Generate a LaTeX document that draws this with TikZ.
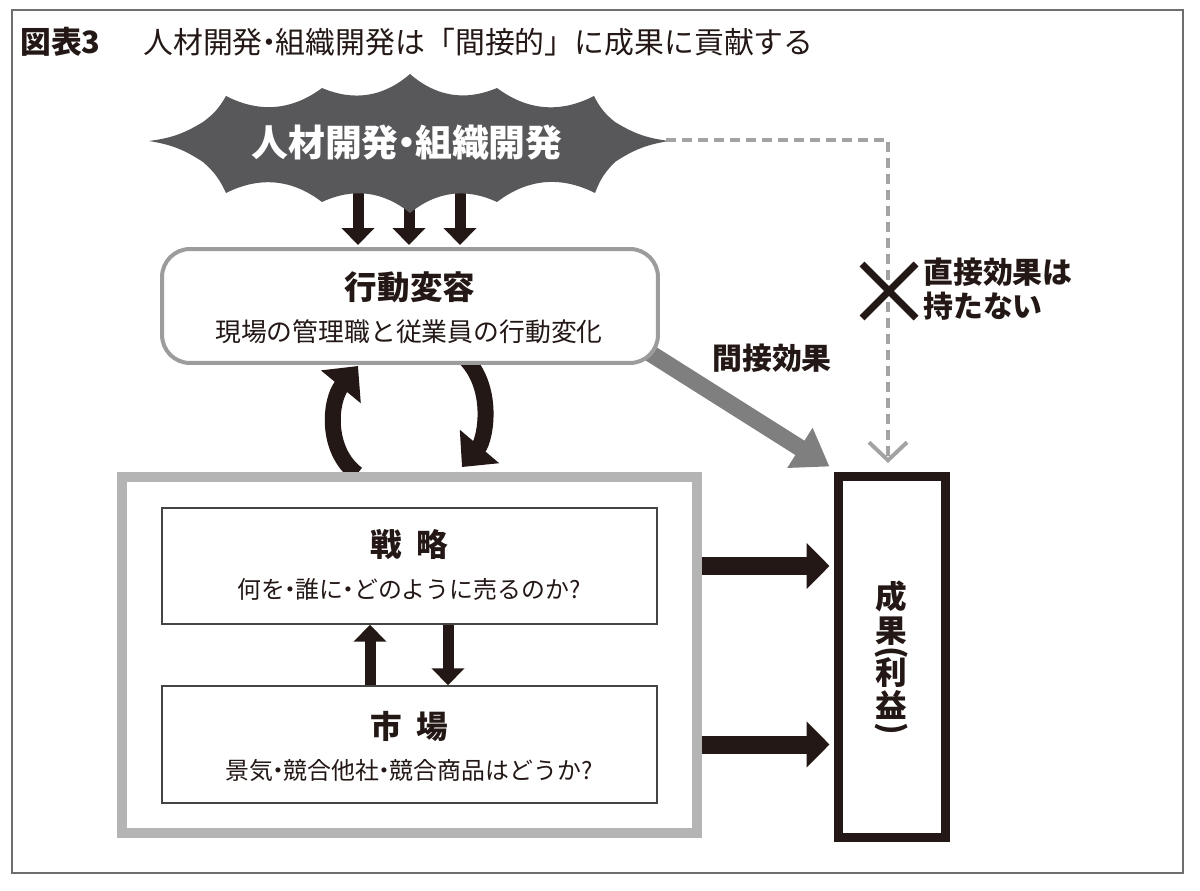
\documentclass[tikz,border=0pt]{standalone}
\usepackage{fontspec}
\setmainfont{Noto Sans CJK JP}
\usetikzlibrary{arrows.meta,calc}
\definecolor{ink}{HTML}{231815}
\definecolor{burstgray}{HTML}{58575A}
\definecolor{boxgray}{HTML}{9C9C9C}
\definecolor{envgray}{HTML}{B4B4B4}
\definecolor{dashgray}{HTML}{A3A3A3}
\definecolor{diaggray}{HTML}{7F7F7F}
\definecolor{framegray}{HTML}{6E6E6E}
\definecolor{thingray}{HTML}{444444}
\newcommand\fsz[2]{\fontsize{#1}{#2}\selectfont}
\newcommand\ndot{\kern-0.28em・\kern-0.28em}
\pgfdeclarelayer{bg}
\pgfsetlayers{bg,main}
\begin{document}
\begin{tikzpicture}[x=0.02cm,y=-0.02cm,
  txt/.style={inner sep=0pt, text=ink},
  smallarrow/.style={draw=ink, line width=0.22cm, -{Triangle[length=0.34cm,width=0.64cm]}},
  bigarrow/.style={draw=ink, line width=0.36cm, -{Triangle[length=0.46cm,width=0.9cm]}},
  curvearrow/.style={draw=ink, line width=0.32cm, -{Triangle[length=0.54cm,width=1cm]}},
  diagarrow/.style={draw=diaggray, line width=0.34cm, -{Triangle[length=0.7cm,width=0.9cm]}},
  dashline/.style={draw=dashgray, line width=0.08cm, dash pattern=on 0.2cm off 0.12cm, -{Straight Barb[length=0.36cm,width=0.76cm]}},
  thinbox/.style={draw=thingray, line width=0.03cm, fill=white, minimum width=9.9cm, minimum height=2.32cm, inner sep=0pt},
  sp/.style={bend right=32},
  ss/.style={bend right=12},
]
\useasboundingbox (0,0) rectangle (1200,891);
\begin{pgfonlayer}{bg}
\fill[white] (0,0) rectangle (1200,891);
\end{pgfonlayer}
% outer frame
\draw[framegray, line width=0.04cm] (12,10) rectangle (1183,873);

% title
\node[txt, anchor=west, font=\bfseries\fsz{17.5pt}{20pt}] (tnum) at (20,42) {図表3};
\node[txt, anchor=west, font=\fsz{17pt}{20pt}] (ttl) at (143,42) {人材開発\ndot 組織開発は「間接的」に成果に貢献する};

% starburst
\fill[burstgray] (407,143) ellipse [x radius=190, y radius=44];
\fill[burstgray]
 (410,74) to[sp] (497,88) to[sp] (594,96) to[ss] (615,122) to[ss] (669,141)
 to[ss] (615,162) to[ss] (595,193) to[sp] (497,202) to[sp] (410,213)
 to[sp] (322,202) to[sp] (226,193) to[ss] (203,162) to[ss] (149,141)
 to[ss] (203,122) to[ss] (226,96) to[sp] (322,88) to[sp] (410,74) -- cycle;
\node[inner sep=0pt, text=white, font=\bfseries\fsz{21pt}{24pt}] (hr) at (407,143) {人材開発\ndot 組織開発};
\coordinate (hrR) at (666,140);

% behaviour change box
\node[draw=boxgray, line width=0.08cm, fill=white, rounded corners=0.56cm,
      minimum width=9.92cm, minimum height=2.28cm, inner sep=0pt] (beh) at (410,306) {};
\node[txt, font=\bfseries\fsz{18.5pt}{20pt}] (behT) at (410,287) {行動変容};
\node[txt, font=\fsz{14.7pt}{16pt}] (behS) at (409,332) {現場の管理職と従業員の行動変化};

% environment box
\node[draw=envgray, line width=0.2cm, minimum width=11.5cm, minimum height=7.12cm, inner sep=0pt] (env) at (409.5,655) {};
\node[thinbox] (strat) at (409.5,566) {};
\node[txt, font=\bfseries\fsz{18pt}{20pt}] (stratT) at (409.5,545) {戦\hspace{0.45em}略};
\node[txt, font=\fsz{13.6pt}{16pt}] (stratS) at (409,589) {何を\ndot 誰に\ndot どのように売るのか?};
\node[thinbox, minimum height=2.34cm] (mkt) at (409.5,744.5) {};
\node[txt, font=\bfseries\fsz{18pt}{20pt}] (mktT) at (409.5,726) {市\hspace{0.45em}場};
\node[txt, font=\fsz{13.6pt}{16pt}] (mktS) at (409,770) {景気\ndot 競合他社\ndot 競合商品はどうか?};

% result box
\node[draw=ink, line width=0.18cm, fill=white, minimum width=2.14cm, minimum height=7.24cm, inner sep=0pt] (res) at (891.5,657) {};
\node[txt, font=\bfseries\fsz{18pt}{19pt}, align=center] (resT) at (891.5,660)
  {成\\果\\[-7pt]\rotatebox[origin=c]{-90}{(}\\[-7pt]利\\益\\[-7pt]\rotatebox[origin=c]{-90}{)}};

% labels
\node[txt, font=\bfseries\fsz{17pt}{20pt}] (ind) at (772,358) {間接効果};
\node[txt, anchor=west, font=\bfseries\fsz{17pt}{19.5pt}, align=left] (dir) at (923,289) {直接効果は\\持たない};

% connectors (background layer)
\begin{pgfonlayer}{bg}
\draw[smallarrow] ($(beh.north)+(-52,-70)$) -- ($(beh.north)+(-52,-2)$);
\draw[smallarrow] ($(beh.north)+(-1,-70)$) -- ($(beh.north)+(-1,-2)$);
\draw[smallarrow] ($(beh.north)+(50,-70)$) -- ($(beh.north)+(50,-2)$);
\draw[diagarrow] ($(beh.south east)+(-15,-15)$) -- ($(res.north west)+(-4,-5)$);
\draw[curvearrow] ($(env.north)+(-52.5,2)$) .. controls (325,450) and (330,400) .. ($(beh.south)+(-52,1)$);
\draw[curvearrow] ($(beh.south)+(56,-6)$) .. controls (495,390) and (485,440) .. ($(env.north)+(52.5,-5)$);
\end{pgfonlayer}

\draw[dashline] (hrR) -| ($(res.north)+(-3.5,-8.5)$);
\draw[ink, line width=0.14cm] (862,264) -- (916,318);
\draw[ink, line width=0.14cm] (916,264) -- (862,318);

\draw[smallarrow] ($(mkt.north)+(-39.5,0)$) -- ($(strat.south)+(-39.5,0)$);
\draw[smallarrow] ($(strat.south)+(38.5,0)$) -- ($(mkt.north)+(38.5,0)$);

\draw[bigarrow] (env.east |- strat.east) -- ($(res.west |- strat.east)+(-4,0)$);
\draw[bigarrow] (env.east |- mkt.east) -- ($(res.west |- mkt.east)+(-4,0)$);
\end{tikzpicture}
\end{document}
